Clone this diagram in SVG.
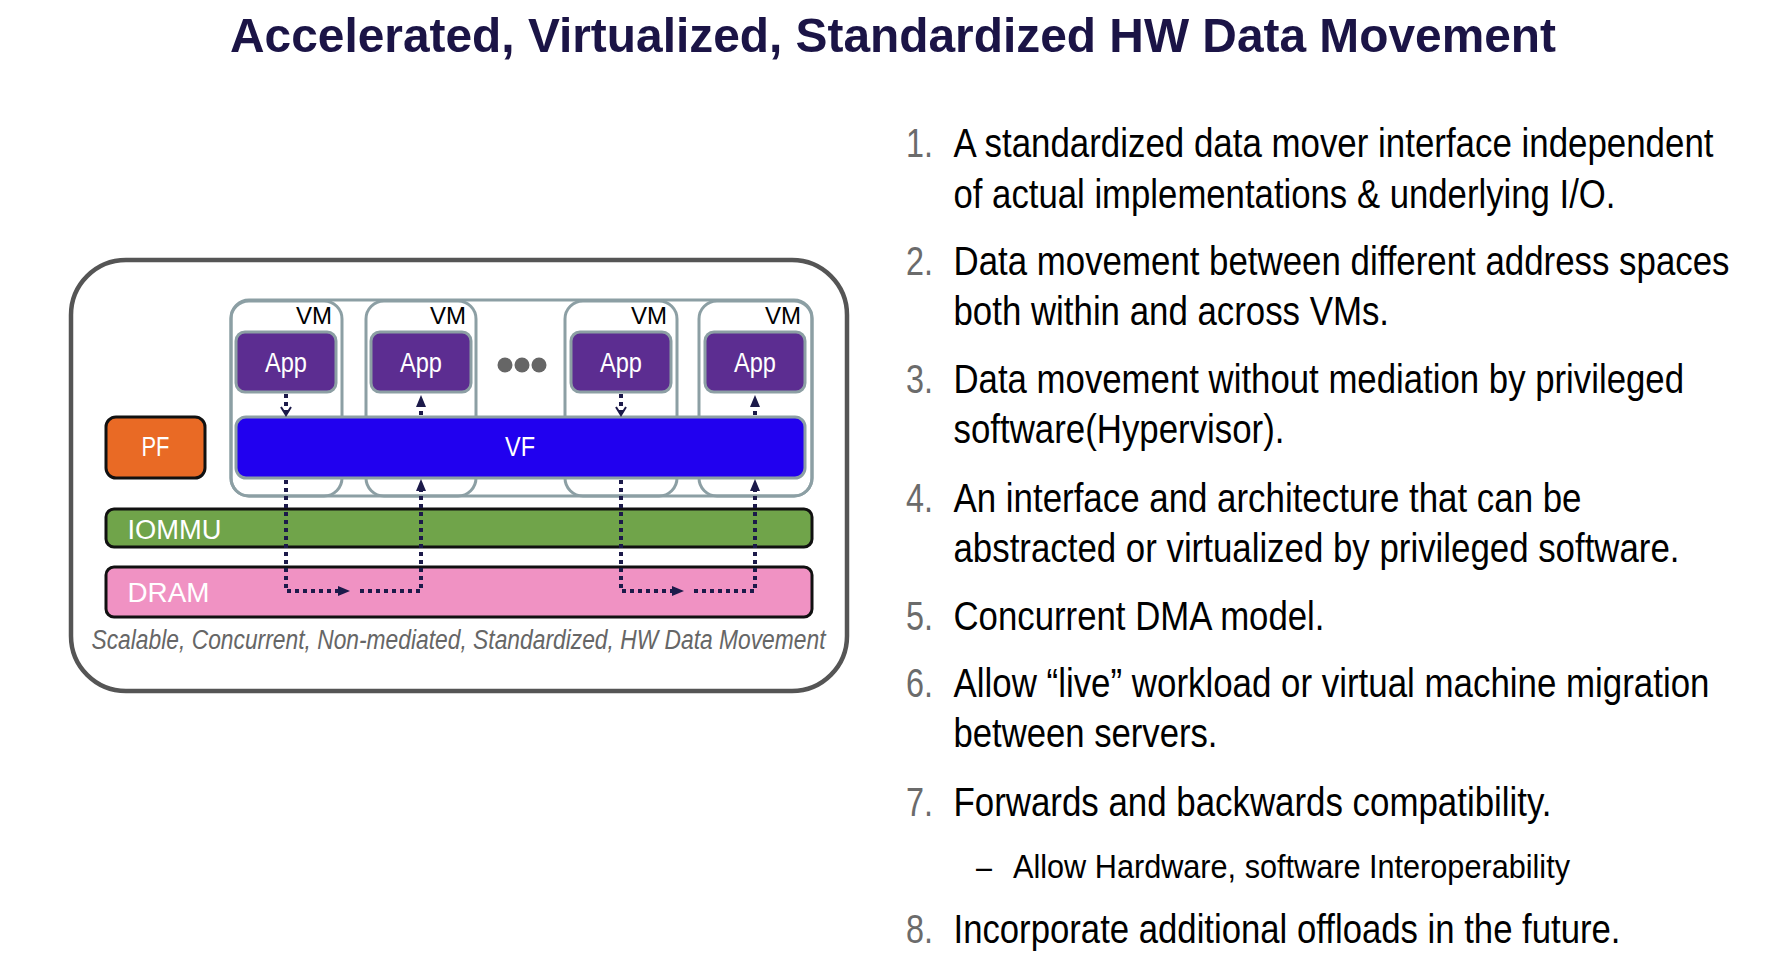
<svg xmlns="http://www.w3.org/2000/svg" width="1784" height="970" viewBox="0 0 1784 970">
  <defs>
    <style>
      .sans { font-family: "Liberation Sans", Arial, sans-serif; }
      .title { font-size: 49px; font-weight: bold; fill: #1b1446; }
      .vmbox { fill: none; stroke: #8c9fa4; stroke-width: 3; }
      .vmlabel { font-size: 24px; fill: #000; text-anchor: end; }
      .app { fill: #5c2d91; stroke: #8c9fa4; stroke-width: 3; }
      .wlabel { font-size: 27px; fill: #fff; }
      .mid { text-anchor: middle; }
      .bar { stroke: #111; stroke-width: 3; }
      .flow { fill: none; stroke: #1c1a4a; stroke-width: 4; stroke-dasharray: 4 4; }
      .num { font-size: 41px; fill: #6b6b6b; }
      .item { font-size: 41px; fill: #000; }
      .sub { font-size: 33px; fill: #000; }
      .caption { font-size: 27px; font-style: italic; fill: #666; }
    </style>
    <marker id="tri" markerUnits="userSpaceOnUse" viewBox="0 0 12 10" refX="0" refY="5" markerWidth="12" markerHeight="10" orient="auto">
      <path d="M0,0 L12,5 L0,10 z" fill="#1c1a4a"/>
    </marker>
    <marker id="chev" markerUnits="userSpaceOnUse" viewBox="-1 -1 11 12" refX="8" refY="5" markerWidth="11" markerHeight="12" orient="auto">
      <path d="M0,0 L8,5 L0,10" fill="none" stroke="#1c1a4a" stroke-width="2"/>
    </marker>
  </defs>

  <rect width="1784" height="970" fill="#fff"/>

  <text class="sans title" x="230" y="52" textLength="1326" lengthAdjust="spacingAndGlyphs">Accelerated, Virtualized, Standardized HW Data Movement</text>

  <!-- platform frame -->
  <g id="platform">
    <rect x="71" y="260" width="776" height="431" rx="55" fill="#fff" stroke="#555" stroke-width="4.5"/>
    <text class="sans caption" x="91.5" y="649" textLength="734" lengthAdjust="spacingAndGlyphs">Scalable, Concurrent, Non-mediated, Standardized, HW Data Movement</text>
  </g>

  <g id="vm-host">
    <rect class="vmbox" x="231" y="300" width="581" height="196" rx="18"/>
  </g>

  <g id="vm1">
    <rect class="vmbox" x="231" y="301" width="111" height="195" rx="18"/>
    <text class="sans vmlabel" x="332" y="324">VM</text>
  </g>
  <g id="vm2">
    <rect class="vmbox" x="366" y="301" width="110" height="195" rx="18"/>
    <text class="sans vmlabel" x="466" y="324">VM</text>
  </g>
  <g id="vm3">
    <rect class="vmbox" x="565" y="301" width="112" height="195" rx="18"/>
    <text class="sans vmlabel" x="667" y="324">VM</text>
  </g>
  <g id="vm4">
    <rect class="vmbox" x="699" y="301" width="113" height="195" rx="18"/>
    <text class="sans vmlabel" x="801" y="324">VM</text>
  </g>

  <g id="app1">
    <rect class="app" x="236" y="332" width="100" height="60" rx="9"/>
    <text class="sans wlabel mid" x="286" y="372" textLength="42" lengthAdjust="spacingAndGlyphs">App</text>
  </g>
  <g id="app2">
    <rect class="app" x="371" y="332" width="100" height="60" rx="9"/>
    <text class="sans wlabel mid" x="421" y="372" textLength="42" lengthAdjust="spacingAndGlyphs">App</text>
  </g>
  <g id="ellipsis">
    <circle cx="505" cy="365" r="7.5" fill="#666"/>
    <circle cx="522" cy="365" r="7.5" fill="#666"/>
    <circle cx="539" cy="365" r="7.5" fill="#666"/>
  </g>
  <g id="app3">
    <rect class="app" x="571" y="332" width="100" height="60" rx="9"/>
    <text class="sans wlabel mid" x="621" y="372" textLength="42" lengthAdjust="spacingAndGlyphs">App</text>
  </g>
  <g id="app4">
    <rect class="app" x="705" y="332" width="100" height="60" rx="9"/>
    <text class="sans wlabel mid" x="755" y="372" textLength="42" lengthAdjust="spacingAndGlyphs">App</text>
  </g>

  <g id="pf">
    <rect class="bar" x="106" y="417" width="99" height="61" rx="10" fill="#e96a25"/>
    <text class="sans wlabel mid" x="155.5" y="456" style="font-size:28px" textLength="28" lengthAdjust="spacingAndGlyphs">PF</text>
  </g>

  <g id="vf">
    <rect x="236" y="417" width="569" height="61" rx="10" fill="#2100ef" stroke="#8c9fa4" stroke-width="3"/>
    <text class="sans wlabel mid" x="520" y="456" style="font-size:28px" textLength="30" lengthAdjust="spacingAndGlyphs">VF</text>
  </g>

  <g id="iommu">
    <rect class="bar" x="106" y="509" width="706" height="38" rx="8" fill="#70a44a"/>
    <text class="sans wlabel" x="127.5" y="539" textLength="94" lengthAdjust="spacingAndGlyphs">IOMMU</text>
  </g>

  <g id="dram">
    <rect class="bar" x="106" y="567" width="706" height="50" rx="8" fill="#f092c3"/>
    <text class="sans wlabel" x="127.5" y="602" style="font-size:28px" textLength="82" lengthAdjust="spacingAndGlyphs">DRAM</text>
  </g>

  <!-- data movement paths -->
  <g id="connectors">
    <path class="flow" d="M286,394 V415" marker-end="url(#chev)"/>
    <path class="flow" d="M286,480 V591 H338" marker-end="url(#tri)"/>
    <path class="flow" d="M360,591 H421 V491" marker-end="url(#tri)"/>
    <path class="flow" d="M421,415 V407" marker-end="url(#tri)"/>

    <path class="flow" d="M621,394 V415" marker-end="url(#chev)"/>
    <path class="flow" d="M621,480 V591 H672" marker-end="url(#tri)"/>
    <path class="flow" d="M694,591 H755 V491" marker-end="url(#tri)"/>
    <path class="flow" d="M755,415 V407" marker-end="url(#tri)"/>
  </g>

  <!-- requirement list -->
  <g id="requirements" class="sans">
    <text class="num" x="906" y="157" textLength="27" lengthAdjust="spacingAndGlyphs">1.</text>
    <text class="item" x="953.5" y="157" textLength="760" lengthAdjust="spacingAndGlyphs">A standardized data mover interface independent</text>
    <text class="item" x="953.5" y="208" textLength="662" lengthAdjust="spacingAndGlyphs">of actual implementations &amp; underlying I/O.</text>

    <text class="num" x="906" y="275" textLength="27" lengthAdjust="spacingAndGlyphs">2.</text>
    <text class="item" x="953.5" y="275" textLength="776" lengthAdjust="spacingAndGlyphs">Data movement between different address spaces</text>
    <text class="item" x="953.5" y="325" textLength="435.5" lengthAdjust="spacingAndGlyphs">both within and across VMs.</text>

    <text class="num" x="906" y="393" textLength="27" lengthAdjust="spacingAndGlyphs">3.</text>
    <text class="item" x="953.5" y="393" textLength="730.5" lengthAdjust="spacingAndGlyphs">Data movement without mediation by privileged</text>
    <text class="item" x="953.5" y="443" textLength="331" lengthAdjust="spacingAndGlyphs">software(Hypervisor).</text>

    <text class="num" x="906" y="512" textLength="27" lengthAdjust="spacingAndGlyphs">4.</text>
    <text class="item" x="953.5" y="512" textLength="628" lengthAdjust="spacingAndGlyphs">An interface and architecture that can be</text>
    <text class="item" x="953.5" y="562" textLength="726" lengthAdjust="spacingAndGlyphs">abstracted or virtualized by privileged software.</text>

    <text class="num" x="906" y="630" textLength="27" lengthAdjust="spacingAndGlyphs">5.</text>
    <text class="item" x="953.5" y="630" textLength="371" lengthAdjust="spacingAndGlyphs">Concurrent DMA model.</text>

    <text class="num" x="906" y="697" textLength="27" lengthAdjust="spacingAndGlyphs">6.</text>
    <text class="item" x="953.5" y="697" textLength="756" lengthAdjust="spacingAndGlyphs">Allow “live” workload or virtual machine migration</text>
    <text class="item" x="953.5" y="747" textLength="264" lengthAdjust="spacingAndGlyphs">between servers.</text>

    <text class="num" x="906" y="816" textLength="27" lengthAdjust="spacingAndGlyphs">7.</text>
    <text class="item" x="953.5" y="816" textLength="598" lengthAdjust="spacingAndGlyphs">Forwards and backwards compatibility.</text>

    <text class="sub" x="976" y="878" textLength="16" lengthAdjust="spacingAndGlyphs">–</text>
    <text class="sub" x="1013" y="878" textLength="557" lengthAdjust="spacingAndGlyphs">Allow Hardware, software Interoperability</text>

    <text class="num" x="906" y="943" textLength="27" lengthAdjust="spacingAndGlyphs">8.</text>
    <text class="item" x="953.5" y="943" textLength="667" lengthAdjust="spacingAndGlyphs">Incorporate additional offloads in the future.</text>
  </g>
</svg>
